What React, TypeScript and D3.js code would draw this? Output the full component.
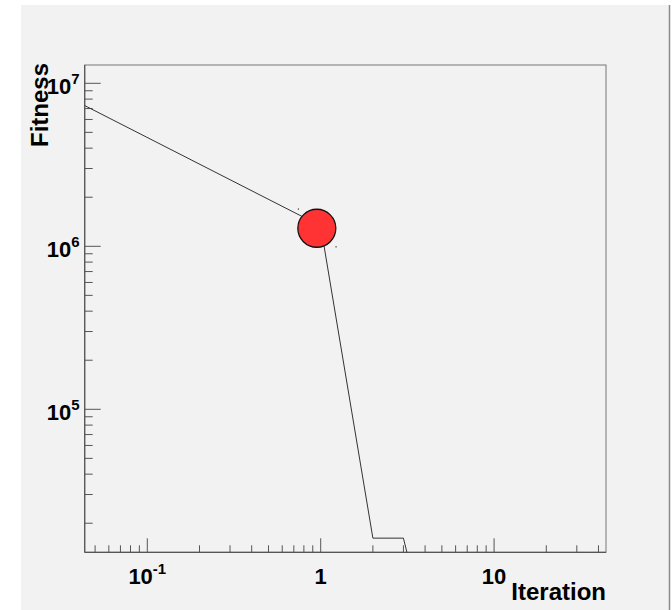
import React from "react";
import * as d3 from "d3";

const iterations = [0, 1, 2, 3, 4];
const fitness = [7.3e6, 1.333e6, 16200, 16200, 4700];

const markerX = [0.95];
const markerY = [1.29e6];

const dotX = [0.743, 1.225];
const dotY = [1.694e6, 9.94e5];

const xMajor = [0.1, 1, 10];
const xMajorLabels = [["10", "-1"], ["1", ""], ["10", ""]];
const yMajor = [1e5, 1e6, 1e7];
const yMajorLabels = [["10", "5"], ["10", "6"], ["10", "7"]];

const xDomain = [0.04355, 44.2];
const yDomain = [13265, 1.295e7];

const W = 672;
const H = 610;
const FL = 84.7, FR = 606, FT = 65, FB = 552.3;

function minorTicks(domain: number[]) {
  const out: number[] = [];
  const d0 = Math.floor(Math.log10(domain[0]));
  const d1 = Math.ceil(Math.log10(domain[1]));
  for (let d = d0; d <= d1; d++) {
    for (let k = 2; k <= 9; k++) {
      const v = k * Math.pow(10, d);
      if (v > domain[0] && v < domain[1]) out.push(v);
    }
  }
  return out;
}

export default function App() {
  const x = d3.scaleLog().domain(xDomain).range([FL, FR]);
  const y = d3.scaleLog().domain(yDomain).range([FB, FT]);
  const xv = (v: number) => (v <= 0 ? x(xDomain[0]) : x(v));

  const pts = iterations.map((it, i) => [xv(it), y(fitness[i])] as [number, number]);
  const line = d3.line()(pts) || "";

  const font = "'Liberation Sans', Arial, Helvetica, sans-serif";
  const axisColor = "#555";

  return (
    <svg width={W} height={H} style={{ position: "absolute", left: 0, top: 0 }} fontFamily={font}>
      <rect x={0} y={0} width={W} height={H} fill="#ffffff" />
      <rect x={21} y={5} width={648} height={H - 5} fill="#f2f2f2" />
      <line x1={669.5} x2={669.5} y1={5} y2={H} stroke="#8a8a8a" strokeWidth={1.5} />
      <defs>
        <clipPath id="frameClip">
          <rect x={FL} y={FT} width={FR - FL} height={FB - FT} />
        </clipPath>
      </defs>
      {/* frame */}
      <rect x={FL} y={FT} width={FR - FL} height={FB - FT} fill="none" stroke="#777" strokeWidth={1} />
      {/* axes */}
      <line x1={FL} x2={FL} y1={FT} y2={FB} stroke={axisColor} strokeWidth={1.2} />
      <line x1={FL} x2={FR} y1={FB} y2={FB} stroke={axisColor} strokeWidth={1.2} />
      {xMajor.map((v) => (
        <line key={"xM" + v} x1={x(v)} x2={x(v)} y1={FB} y2={FB - 14} stroke={axisColor} strokeWidth={1} />
      ))}
      {minorTicks(xDomain).map((v) => (
        <line key={"xm" + v} x1={x(v)} x2={x(v)} y1={FB} y2={FB - 7} stroke={axisColor} strokeWidth={1} />
      ))}
      {yMajor.map((v) => (
        <line key={"yM" + v} x1={FL} x2={FL + 16} y1={y(v)} y2={y(v)} stroke={axisColor} strokeWidth={1} />
      ))}
      {minorTicks(yDomain).map((v) => (
        <line key={"ym" + v} x1={FL} x2={FL + 8} y1={y(v)} y2={y(v)} stroke={axisColor} strokeWidth={1} />
      ))}
      {/* x tick labels */}
      {xMajor.map((v, i) => (
        <text key={"xl" + v} x={x(v)} y={583.5} textAnchor="middle" fontSize={22} fontWeight="bold" fill="#000">
          {xMajorLabels[i][0]}
          {xMajorLabels[i][1] ? (
            <tspan fontSize={15} dy={-10}>{xMajorLabels[i][1]}</tspan>
          ) : null}
        </text>
      ))}
      {/* y tick labels */}
      {yMajor.map((v, i) => (
        <text key={"yl" + v} x={79.5} y={y(v) + 11} textAnchor="end" fontSize={22} fontWeight="bold" fill="#000">
          {yMajorLabels[i][0]}
          <tspan fontSize={15} dy={-10}>{yMajorLabels[i][1]}</tspan>
        </text>
      ))}
      {/* titles */}
      <text x={606} y={600} textAnchor="end" fontSize={24} fontWeight="bold" fill="#000">Iteration</text>
      <text transform="translate(48,63) rotate(-90)" textAnchor="end" fontSize={24} fontWeight="bold" fill="#000">Fitness</text>
      {/* data */}
      <g clipPath="url(#frameClip)">
        <path d={line} fill="none" stroke="#333" strokeWidth={1} />
        {dotX.map((v, i) => (
          <rect key={"d" + i} x={x(v) - 0.5} y={y(dotY[i]) - 0.5} width={1.2} height={1.2} fill="#333" />
        ))}
        {markerX.map((v, i) => (
          <circle key={"m" + i} cx={x(v)} cy={y(markerY[i])} r={19} fill="#ff3333" stroke="#111" strokeWidth={1.3} />
        ))}
      </g>
    </svg>
  );
}
